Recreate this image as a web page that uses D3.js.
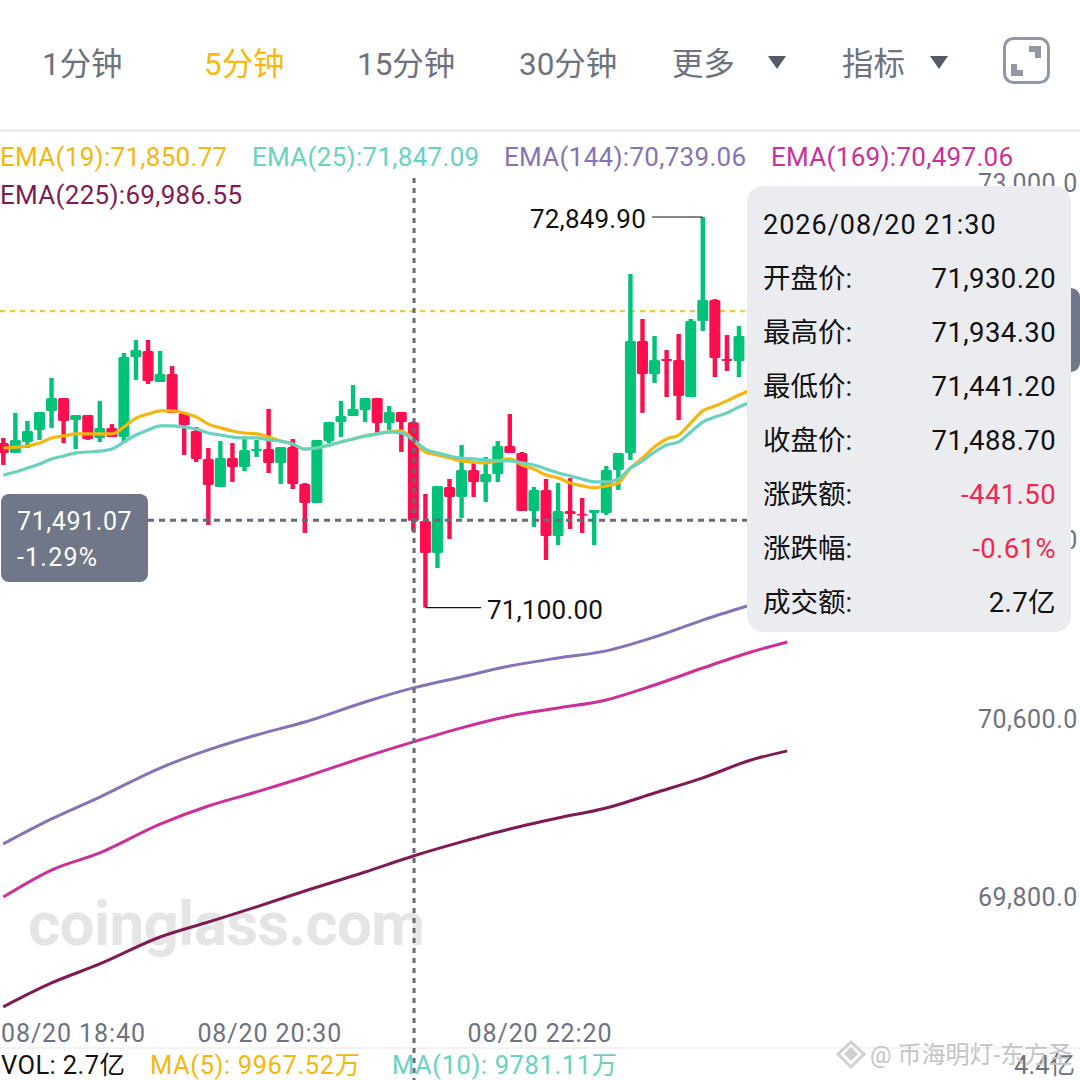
<!DOCTYPE html>
<html>
<head>
<meta charset="utf-8">
<script src="https://cdn.jsdelivr.net/npm/d3@7"></script>
<style>
  html, body { margin: 0; padding: 0; background: #fff; overflow: hidden; }
  text { font-family: Roboto, "Noto Sans CJK SC", sans-serif; }
</style>
</head>
<body>
<div id="chartArea"></div>
<script>
const opens = [
  71837,71793,71842,71896,71981,72039,71940,71963,71860,71905,
  71864,72223,72250,72111,72146,71972,71891,71766,71640,71770,
  71730,71801,71810,71748,71819,71654,71569,71846,71931,71958,
  71985,72039,71927,71976,71930.2,71488,71345,71640,71595,71716,
  71663,71698,71824,71793,71533,71627,71421,71533,71519,71524,
  71524,71716,71793,72294,72146,72214,72209,72043,72384,72478,
  72214,72205
];
const highs = [
  71860,71972,71936,71976,72129,72039,71963,71963,72026,71922,
  72241,72299,72299,72250,72182,71972,71909,71815,71846,71837,
  71869,71851,71990,71819,71855,71658,71851,71931,72026,72097,
  72039,72039,72003,71976,71934.3,71609,71645,71676,71828,71748,
  71775,71846,71967,71797,71640,71676,71658,71680,71591,71537,
  71734,71793,72594,72393,72317,72254,72326,72393,72849.9,72482,
  72321,72362
];
const lows = [
  71739,71793,71815,71851,71905,71837,71810,71851,71842,71864,
  71837,72120,72102,72111,71972,71784,71752,71470,71640,71663,
  71712,71775,71703,71654,71631,71434,71569,71837,71864,71958,
  71931,71882,71896,71797,71441.2,71100,71277,71407,71501,71595,
  71573,71663,71793,71533,71461,71313,71380,71452,71434,71380,
  71515,71627,71761,71972,72106,72043,71940,72043,72339,72133,
  72160,72133
];
const closes = [
  71793,71851,71891,71976,72039,71936,71963,71855,71905,71864,
  72223,72254,72115,72146,71972,71918,71766,71649,71770,71730,
  71806,71810,71748,71819,71654,71569,71851,71931,71958,71990,
  72039,71927,71976,71931,71488.7,71345,71645,71595,71716,71663,
  71698,71824,71793,71533,71627,71421,71533,71519,71515,71537,
  71716,71793,72294,72146,72209,72205,72048,72384,72478,72218,
  72205,72317
];
const ema19 = [
  71815,71819,71824,71837,71860,71869,71878,71878,71878,71878,
  71909,71949,71967,71981,71981,71972,71954,71922,71905,71891,
  71882,71878,71864,71846,71833,71810,71815,71828,71842,71855,
  71869,71878,71887,71891,71851,71797,71784,71770,71757,71752,
  71748,71757,71766,71739,71721,71694,71681,71658,71645,71636,
  71645,71658,71725,71770,71819,71855,71873,71927,71981,72003,
  72026,72052,72075
];
const ema25 = [
  71694,71707,71725,71743,71766,71779,71793,71797,71801,71810,
  71842,71873,71896,71914,71914,71909,71900,71882,71873,71864,
  71860,71860,71851,71846,71833,71810,71815,71828,71842,71855,
  71869,71878,71887,71882,71851,71810,71793,71779,71770,71766,
  71761,71757,71757,71748,71739,71721,71703,71690,71676,71663,
  71663,71676,71725,71757,71797,71828,71842,71887,71931,71954,
  71972,71999,72021
];
const slowIdx = [0,4,8,13,17,21,25,30,34,38,42,46,50,54,58,62,65];
const ema144 = [70041,70153,70251,70381,70462,70529,70587,70677,70740,70789,70838,70874,70906,70968,71044,71112,71161];
const ema169 = [69803,69924,70001,70130,70211,70274,70341,70431,70498,70561,70614,70650,70686,70753,70829,70901,70946];
const ema225 = [69311,69418,69503,69624,69691,69759,69830,69915,69987,70050,70108,70157,70202,70269,70337,70417,70458];

const yTicks = [73000, 72200, 71400, 70600, 69800];
const timeIdx = [0, 22.1, 44.5];
const timeLabels = ["08/20 18:40", "08/20 20:30", "08/20 22:20"];

const tabs = ["1分钟", "5分钟", "15分钟", "30分钟", "更多", "指标"];
const legendLabels = ["EMA(19):71,850.77", "EMA(25):71,847.09", "EMA(144):70,739.06", "EMA(169):70,497.06", "EMA(225):69,986.55"];
const tipLabels = ["开盘价:", "最高价:", "最低价:", "收盘价:", "涨跌额:", "涨跌幅:", "成交额:"];
const tipValues = ["71,930.20", "71,934.30", "71,441.20", "71,488.70", "-441.50", "-0.61%", "2.7亿"];

const UP = "#00c278", DOWN = "#fd0f4f";
const C19 = "#f5b70f", C25 = "#69d2bf", C144 = "#8673b6", C169 = "#cc2f98", C225 = "#7e1b53";
const GREY = "#6d7280";

const svg = d3.select("#chartArea").append("svg").attr("width", 1080).attr("height", 1080);

const x = d3.scaleLinear().domain([0, 65]).range([3.3, 787.2]);
const y = d3.scaleLinear().domain([73000, 69800]).range([183.5, 897.7]);

// header
const tabX = [42, 204, 357, 519, 672, 842];
svg.selectAll(".tab").data(tabs).enter().append("text")
  .attr("class", "tab")
  .attr("x", (d, i) => tabX[i])
  .attr("y", 75)
  .attr("font-size", 31.4)
  .attr("fill", (d, i) => (i === 1 ? "#f8b90b" : GREY))
  .text(d => d);
svg.selectAll(".caret").data([777, 939]).enter().append("path")
  .attr("class", "caret")
  .attr("d", d => `M${d - 9},56L${d + 9},56L${d},69Z`)
  .attr("fill", "#555b66");
svg.append("rect").attr("x", 1004.5).attr("y", 38.5).attr("width", 44).attr("height", 44).attr("rx", 9)
  .attr("fill", "none").attr("stroke", "#9297a5").attr("stroke-width", 3);
svg.append("path").attr("d", "M1029,46H1041V58H1035V52H1029Z M1011,64H1017V70H1023V76H1011Z").attr("fill", "#9297a5");
svg.append("rect").attr("x", 0).attr("y", 129).attr("width", 1080).attr("height", 3).attr("fill", "#eeeff2");
svg.append("rect").attr("x", 0).attr("y", 1047).attr("width", 1080).attr("height", 2).attr("fill", "#f2f2f4");

// watermark
svg.append("text").attr("x", 28).attr("y", 945).attr("font-size", 62).attr("font-weight", 700)
  .attr("fill", "#e5e5e5").attr("textLength", 397).text("coinglass.com");

// y axis
const yAxis = d3.axisRight(y).tickValues(yTicks).tickFormat(d3.format(",.1f")).tickSize(0).tickPadding(0);
const yG = svg.append("g").attr("transform", "translate(978,0)").call(yAxis);
yG.select(".domain").remove();
yG.selectAll("text").attr("font-size", 25).attr("fill", GREY).attr("font-family", "Roboto").attr("letter-spacing", 0.5);

// x axis labels
svg.selectAll(".time").data(timeLabels).enter().append("text")
  .attr("class", "time")
  .attr("x", (d, i) => (i === 0 ? 1 : x(timeIdx[i])))
  .attr("y", 1042)
  .attr("text-anchor", (d, i) => (i === 0 ? "start" : "middle"))
  .attr("font-size", 25)
  .attr("letter-spacing", 0.9)
  .attr("fill", GREY)
  .text(d => d);

// reference line (yellow)
svg.append("line").attr("x1", 0).attr("x2", 748).attr("y1", y(72428)).attr("y2", y(72428))
  .attr("stroke", "#f3c44a").attr("stroke-width", 2.2).attr("stroke-dasharray", "5,5");

// candles
const candles = d3.range(opens.length).map(i => ({ i, o: opens[i], h: highs[i], l: lows[i], c: closes[i] }));
const cg = svg.append("g");
cg.selectAll(".wick").data(candles).enter().append("line")
  .attr("class", "wick")
  .attr("x1", d => x(d.i)).attr("x2", d => x(d.i))
  .attr("y1", d => y(d.h)).attr("y2", d => y(d.l))
  .attr("stroke-width", 4.4)
  .attr("stroke", d => (d.c >= d.o ? UP : DOWN));
cg.selectAll(".body").data(candles).enter().append("rect")
  .attr("class", "body")
  .attr("x", d => x(d.i) - 5.5)
  .attr("width", 11)
  .attr("y", d => y(Math.max(d.o, d.c)))
  .attr("height", d => Math.max(1.5, Math.abs(y(d.o) - y(d.c))))
  .attr("rx", 1.5)
  .attr("fill", d => (d.c >= d.o ? UP : DOWN));

// EMA lines
const fast = d3.line().x((d, i) => x(i)).y(d => y(d)).curve(d3.curveMonotoneX);
const slow = d3.line().x((d, i) => x(slowIdx[i])).y(d => y(d)).curve(d3.curveMonotoneX);
svg.append("path").attr("d", fast(ema19)).attr("fill", "none").attr("stroke", C19).attr("stroke-width", 3.2);
svg.append("path").attr("d", fast(ema25)).attr("fill", "none").attr("stroke", C25).attr("stroke-width", 3.2);
[[ema144, C144], [ema169, C169], [ema225, C225]].forEach(s => {
  svg.append("path").attr("d", slow(s[0])).attr("fill", "none").attr("stroke", s[1]).attr("stroke-width", 3);
});

// crosshair
svg.append("line").attr("x1", x(34) + 0.7).attr("x2", x(34) + 0.7).attr("y1", 178).attr("y2", 1080)
  .attr("stroke", "#676b76").attr("stroke-width", 3).attr("stroke-dasharray", "5,5");
svg.append("line").attr("x1", 148).attr("x2", 748).attr("y1", y(71491.07)).attr("y2", y(71491.07))
  .attr("stroke", "#676b76").attr("stroke-width", 3).attr("stroke-dasharray", "6,5");

// high / low notes
svg.append("line").attr("x1", 652).attr("x2", x(58)).attr("y1", y(72849.9)).attr("y2", y(72849.9)).attr("stroke", "#111").attr("stroke-width", 1.2);
svg.append("text").attr("x", 646).attr("y", 228).attr("text-anchor", "end").attr("font-size", 26).attr("letter-spacing", 0.2).attr("fill", "#111").text(d3.format(",.2f")(72849.9));
svg.append("line").attr("x1", x(35)).attr("x2", 481).attr("y1", y(71100)).attr("y2", y(71100)).attr("stroke", "#111").attr("stroke-width", 1.2);
svg.append("text").attr("x", 487).attr("y", 619).attr("font-size", 26).attr("letter-spacing", 0.2).attr("fill", "#111").text(d3.format(",.2f")(71100));

// legend
const legendPos = [[0, 166, C19], [252, 166, C25], [504, 166, C144], [771, 166, C169], [0, 204, C225]];
svg.selectAll(".leg").data(legendLabels).enter().append("text")
  .attr("class", "leg")
  .attr("x", (d, i) => legendPos[i][0])
  .attr("y", (d, i) => legendPos[i][1])
  .attr("font-size", 26)
  .attr("letter-spacing", 0.3)
  .attr("fill", (d, i) => legendPos[i][2])
  .text(d => d);

// price tag at the left
svg.append("rect").attr("x", 1).attr("y", 494).attr("width", 147).attr("height", 88).attr("rx", 8).attr("fill", "#6f7789");
svg.append("text").attr("x", 17).attr("y", 530).attr("font-size", 25).attr("letter-spacing", 0.6).attr("fill", "#fff").text("71,491.07");
svg.append("text").attr("x", 17).attr("y", 566).attr("font-size", 25).attr("letter-spacing", 1.2).attr("fill", "#fff").text("-1.29%");

// scroll handle and tooltip panel
svg.append("rect").attr("x", 1060).attr("y", 288).attr("width", 20).attr("height", 84).attr("rx", 9).attr("fill", "#6f7789");
svg.append("rect").attr("x", 747).attr("y", 186).attr("width", 324).attr("height", 446).attr("rx", 16).attr("fill", "#ebecf0");
svg.append("text").attr("x", 763).attr("y", 234).attr("font-size", 27).attr("letter-spacing", 1).attr("fill", "#111").text("2026/08/20 21:30");
svg.selectAll(".tipl").data(tipLabels).enter().append("text")
  .attr("class", "tipl")
  .attr("x", 763)
  .attr("y", (d, i) => 288 + i * 54)
  .attr("font-size", 27.5)
  .attr("fill", "#111")
  .text(d => d);
svg.selectAll(".tipv").data(tipValues).enter().append("text")
  .attr("class", "tipv")
  .attr("x", 1056)
  .attr("y", (d, i) => 288 + i * 54)
  .attr("text-anchor", "end")
  .attr("font-size", 27.5)
  .attr("letter-spacing", 0.4)
  .attr("fill", (d, i) => (i === 4 || i === 5 ? "#f2294f" : "#111"))
  .text(d => d);

// volume row
svg.append("text").attr("x", 1).attr("y", 1074).attr("font-size", 25.5).attr("letter-spacing", 0.4).attr("fill", "#111").text("VOL: 2.7亿");
svg.append("text").attr("x", 150).attr("y", 1074).attr("font-size", 25.5).attr("letter-spacing", 0.6).attr("fill", C19).text("MA(5): 9967.52万");
svg.append("text").attr("x", 392).attr("y", 1074).attr("font-size", 25.5).attr("letter-spacing", 0.6).attr("fill", C25).text("MA(10): 9781.11万");
svg.append("text").attr("x", 1075).attr("y", 1074).attr("text-anchor", "end").attr("font-size", 25.5).attr("fill", GREY).text("4.4亿");

// footer mark
const mark = svg.append("g").attr("fill", "none").attr("stroke", "#d0d0d2").attr("stroke-width", 3);
mark.append("path").attr("d", "M851,1042L864,1054L851,1067L838,1054Z");
mark.append("path").attr("d", "M851,1049L856,1054L851,1059L846,1054Z").attr("fill", "#d0d0d2");
svg.append("text").attr("x", 870).attr("y", 1063).attr("font-size", 24).attr("fill", "#c4c4c6").text("@ 币海明灯-东方圣");
</script>
</body>
</html>
